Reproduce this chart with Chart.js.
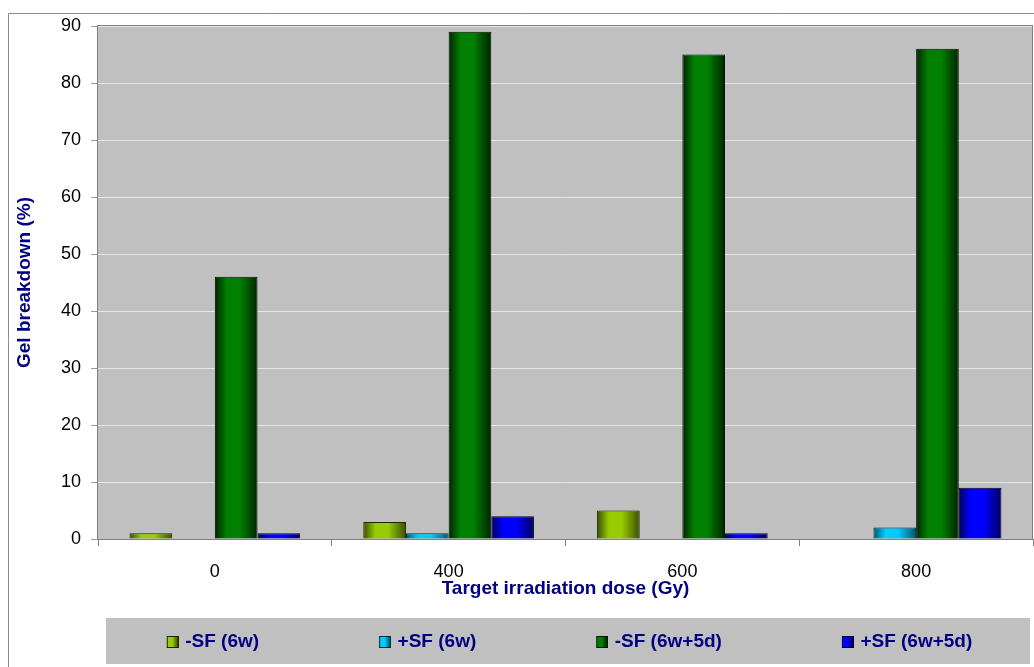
<!DOCTYPE html>
<html>
<head>
<meta charset="utf-8">
<title>Gel breakdown vs target irradiation dose</title>
<script src="https://cdn.jsdelivr.net/npm/chart.js@4.4.1/dist/chart.umd.min.js"></script>
<style>
  html, body { margin: 0; padding: 0; background: #ffffff; overflow: hidden; }
  #c { display: block; }
</style>
</head>
<body>
<canvas id="c" width="1034" height="667"></canvas>
<script>
// Target irradiation dose categories (Gy)
const doses = ['0', '400', '600', '800'];

// Series names
const seriesNames = ['-SF (6w)', '+SF (6w)', '-SF (6w+5d)', '+SF (6w+5d)'];

// Gel breakdown (%) for each series, one value per dose
const minusSF6w   = [1, 3, 5, 0];
const plusSF6w    = [0, 1, 0, 2];
const minusSF6w5d = [46, 89, 85, 86];
const plusSF6w5d  = [1, 4, 1, 9];

// Value axis range
const yMin = 0;
const yMax = 90;
const yStep = 10;

// Shading for each series: bright face, dark flank, outline
const shades = [
  { base: '#99CC00', dark: '#3A4E00', edge: '#1C2600' },
  { base: '#00CCFF', dark: '#00566C', edge: '#002A36' },
  { base: '#008000', dark: '#002400', edge: '#001200' },
  { base: '#0000FF', dark: '#00005E', edge: '#00002E' }
];

const FONT = "'Liberation Sans', Arial, Helvetica, sans-serif";
Chart.defaults.font.family = FONT;

// Legend layout: each entry reserves a slot ahead of its swatch
const LEGEND_FONT = 19;
const LEGEND_PAD = 24;
const SLOT = 105;
const SWATCH = 12;

function legendSwatch(s) {
  const c = document.createElement('canvas');
  c.width = SLOT + 6;
  c.height = SWATCH + 1;
  const g = c.getContext('2d');
  const x0 = c.width - SWATCH;
  g.fillStyle = s.edge;
  g.fillRect(x0, 1, SWATCH, SWATCH);
  const grad = g.createLinearGradient(x0 + 1, 0, x0 + SWATCH - 1, 0);
  grad.addColorStop(0, s.base);
  grad.addColorStop(0.45, s.base);
  grad.addColorStop(1, s.dark);
  g.fillStyle = grad;
  g.fillRect(x0 + 1, 2, SWATCH - 2, SWATCH - 2);
  return c;
}
const swatches = shades.map(legendSwatch);

const seriesData = [minusSF6w, plusSF6w, minusSF6w5d, plusSF6w5d];

// Backgrounds, frames and cylinder-like shading of the bars
const chartDecor = {
  id: 'chartDecor',
  beforeDraw(chart) {
    const { ctx, chartArea: a, legend } = chart;
    ctx.save();
    ctx.fillStyle = '#ffffff';
    ctx.fillRect(0, 0, chart.width, chart.height);

    // outer chart frame
    ctx.strokeStyle = '#8c8c8c';
    ctx.lineWidth = 1;
    ctx.beginPath();
    ctx.moveTo(8.5, chart.height);
    ctx.lineTo(8.5, 13.5);
    ctx.lineTo(chart.width, 13.5);
    ctx.stroke();

    // plot area fill
    ctx.fillStyle = '#C0C0C0';
    ctx.fillRect(a.left, a.top, a.right - a.left, a.bottom - a.top);

    // legend band
    if (legend) {
      const cy = legend.top + LEGEND_PAD + LEGEND_FONT / 2;
      const top = Math.round(cy - 24);
      ctx.fillStyle = '#C0C0C0';
      ctx.fillRect(Math.round(a.left + 8), top, Math.round(a.right - 3) - Math.round(a.left + 8), 46);
    }
    ctx.restore();
  },
  beforeDatasetsDraw(chart) {
    const { ctx, chartArea: a } = chart;
    ctx.save();
    ctx.strokeStyle = '#808080';
    ctx.lineWidth = 1;
    ctx.strokeRect(a.left - 0.5, a.top - 0.5, a.right - a.left, a.bottom - a.top + 1);
    ctx.restore();

    chart.data.datasets.forEach((ds, di) => {
      const s = shades[di];
      chart.getDatasetMeta(di).data.forEach(el => {
        const { x, width } = el.getProps(['x', 'width'], true);
        const g = ctx.createLinearGradient(x - width / 2, 0, x + width / 2, 0);
        g.addColorStop(0, s.dark);
        g.addColorStop(0.28, s.base);
        g.addColorStop(0.58, s.base);
        g.addColorStop(1, s.dark);
        el.options = Object.assign({}, el.options, { backgroundColor: g });
      });
    });
  }
};

new Chart(document.getElementById('c'), {
  type: 'bar',
  data: {
    labels: doses,
    datasets: seriesData.map((values, i) => ({
      label: seriesNames[i],
      data: values,
      backgroundColor: shades[i].base,
      borderColor: shades[i].edge,
      borderWidth: 1,
      borderSkipped: 'bottom',
      categoryPercentage: 0.73,
      barPercentage: 1.0
    }))
  },
  options: {
    responsive: false,
    animation: false,
    events: [],
    layout: { padding: { left: 10, right: 1, top: 26, bottom: 6 } },
    scales: {
      x: {
        grid: {
          display: true,
          drawOnChartArea: false,
          offset: true,
          tickLength: 7,
          tickColor: '#808080'
        },
        border: { display: false },
        ticks: { color: '#000000', font: { size: 18 }, padding: 15 },
        title: {
          display: true,
          text: 'Target irradiation dose (Gy)',
          color: '#000080',
          font: { size: 19, weight: 'bold' },
          padding: { top: 0, bottom: 8 }
        },
        afterFit(scale) { scale.height = 69; }
      },
      y: {
        min: yMin,
        max: yMax,
        ticks: { stepSize: yStep, color: '#000000', font: { size: 18 }, padding: 10 },
        grid: { color: '#E6E6E6', tickColor: '#9a9a9a', tickLength: 7, lineWidth: 1 },
        border: { display: false },
        title: {
          display: true,
          text: 'Gel breakdown (%)',
          color: '#000080',
          font: { size: 19, weight: 'bold' },
          padding: { top: 3, bottom: 0 }
        },
        afterFit(scale) { scale.width = 88; }
      }
    },
    plugins: {
      tooltip: { enabled: false },
      legend: {
        position: 'bottom',
        labels: {
          usePointStyle: true,
          pointStyleWidth: SLOT,
          padding: LEGEND_PAD,
          color: '#000080',
          font: { size: LEGEND_FONT, weight: 'bold' },
          generateLabels(chart) {
            const items = Chart.defaults.plugins.legend.labels.generateLabels(chart);
            items.forEach((it, i) => { it.pointStyle = swatches[i]; });
            return items;
          }
        }
      }
    }
  },
  plugins: [chartDecor]
});
</script>
</body>
</html>
